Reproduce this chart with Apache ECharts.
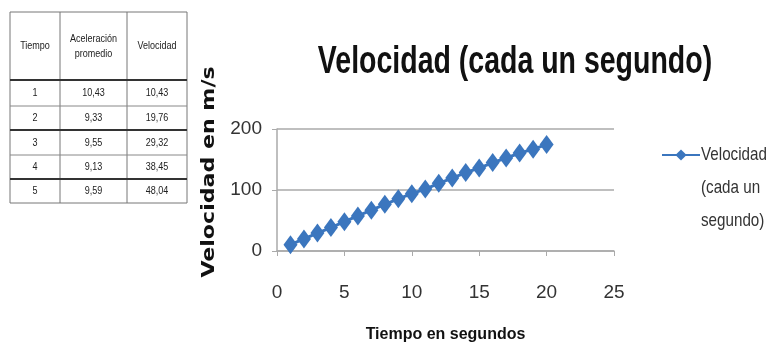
<!DOCTYPE html>
<html>
<head>
<meta charset="utf-8">
<script src="https://cdn.jsdelivr.net/npm/echarts@6/dist/echarts.min.js"></script>
<style>
  html, body { margin: 0; padding: 0; background: #fff; }
  #chart { width: 772px; height: 350px; }
</style>
</head>
<body>
<div id="chart"></div>
<script>
// Tabla de mediciones (primeros cinco segundos)
const tablaEncabezados = ['Tiempo', 'Aceleración\npromedio', 'Velocidad'];
const tablaTiempo = ['1', '2', '3', '4', '5'];
const tablaAceleracion = ['10,43', '9,33', '9,55', '9,13', '9,59'];
const tablaVelocidad = ['10,43', '19,76', '29,32', '38,45', '48,04'];

// Serie del gráfico: velocidad medida cada segundo
const segundos = [1, 2, 3, 4, 5, 6, 7, 8, 9, 10, 11, 12, 13, 14, 15, 16, 17, 18, 19, 20];
const velocidades = [10.43, 19.76, 29.32, 38.45, 48.04, 57.5, 67, 76.5, 85.5, 94,
                     101.5, 111, 119.5, 128.5, 136, 145, 152.5, 160.5, 167, 174.5];

const xTicks = [0, 5, 10, 15, 20, 25];
const yTicks = [0, 100, 200];

const titulo = 'Velocidad (cada un segundo)';
const leyendaLineas = ['Velocidad', '(cada un', 'segundo)'];

const SANS = '"Liberation Sans", Arial, sans-serif';
const AZUL = '#3b76be';

// --- tabla dibujada con elementos gráficos ---
const colX = [10, 60, 127, 187];
const rowY = [12, 80, 106, 130, 155, 179, 203];
const lineasGruesas = [80, 130, 179];
const tabla = [];
tabla.push({ type: 'rect', shape: { x: colX[0], y: rowY[0], width: colX[3] - colX[0], height: rowY[6] - rowY[0] },
  style: { fill: '#fff', stroke: '#777', lineWidth: 1 } });
for (let i = 1; i < colX.length - 1; i++) {
  tabla.push({ type: 'line', shape: { x1: colX[i], y1: rowY[0], x2: colX[i], y2: rowY[6] },
    style: { stroke: '#777', lineWidth: 1 } });
}
for (let j = 1; j < rowY.length - 1; j++) {
  const grueso = lineasGruesas.indexOf(rowY[j]) >= 0;
  tabla.push({ type: 'line', shape: { x1: colX[0], y1: rowY[j], x2: colX[3], y2: rowY[j] },
    style: { stroke: grueso ? '#333' : '#888', lineWidth: grueso ? 2 : 1 } });
}
const celda = (txt, c, r) => ({
  type: 'text',
  x: (colX[c] + colX[c + 1]) / 2,
  y: (rowY[r] + rowY[r + 1]) / 2,
  scaleX: 0.82,
  style: { text: txt, fill: '#222', font: '11px ' + SANS, align: 'center', verticalAlign: 'middle', lineHeight: 15 }
});
tablaEncabezados.forEach((h, c) => tabla.push(celda(h, c, 0)));
for (let r = 0; r < tablaTiempo.length; r++) {
  tabla.push(celda(tablaTiempo[r], 0, r + 1));
  tabla.push(celda(tablaAceleracion[r], 1, r + 1));
  tabla.push(celda(tablaVelocidad[r], 2, r + 1));
}

// texto de la leyenda en tres renglones, comprimido horizontalmente
const leyendaTexto = leyendaLineas.map((t, i) => ({
  type: 'text', x: 701, y: 155 + i * 33, scaleX: 0.8,
  style: { text: t, font: '19px ' + SANS, fill: '#333', align: 'left', verticalAlign: 'middle' }
}));

const chart = echarts.init(document.getElementById('chart'), null, { renderer: 'canvas' });

chart.setOption({
  animation: false,
  backgroundColor: '#fff',
  legend: {
    left: 661, top: 148, padding: 0,
    itemWidth: 38, itemHeight: 14,
    data: [titulo],
    formatter: () => '',
    textStyle: { fontFamily: SANS, fontSize: 18, color: '#333' }
  },
  grid: { left: 277, right: 158, top: 129, bottom: 99, containLabel: false },
  xAxis: {
    type: 'value', min: xTicks[0], max: xTicks[xTicks.length - 1], interval: 5,
    name: 'Tiempo en segundos', nameLocation: 'middle', nameGap: 76,
    nameTextStyle: { fontFamily: SANS, fontSize: 16, fontWeight: 'bold', color: '#111' },
    axisLine: { show: true, lineStyle: { color: '#aaa', width: 1.5 } },
    axisTick: { show: true, length: 5, inside: false, lineStyle: { color: '#aaa' } },
    axisLabel: { margin: 32, fontFamily: SANS, fontSize: 19, color: '#333' },
    splitLine: { show: false }
  },
  yAxis: {
    type: 'value', min: yTicks[0], max: yTicks[yTicks.length - 1], interval: 100,
    axisLine: { show: true, lineStyle: { color: '#aaa', width: 1.5 } },
    axisTick: { show: true, length: 5, lineStyle: { color: '#aaa' } },
    axisLabel: { margin: 15, fontFamily: SANS, fontSize: 19, color: '#333' },
    splitLine: { show: true, lineStyle: { color: '#aaa', width: 1.5 } }
  },
  series: [{
    name: titulo,
    type: 'line',
    data: segundos.map((s, i) => [s, velocidades[i]]),
    symbol: 'diamond',
    symbolSize: [14, 19],
    showAllSymbol: true,
    itemStyle: { color: AZUL },
    lineStyle: { color: AZUL, width: 3 }
  }],
  graphic: [
    { type: 'group', children: tabla },
    // título, comprimido horizontalmente
    {
      type: 'text', x: 515, y: 63, scaleX: 0.75,
      style: { text: titulo, font: 'bold 38px ' + SANS, fill: '#111', align: 'center', verticalAlign: 'middle' }
    },
    // nombre del eje vertical
    {
      type: 'text', x: 210, y: 172, rotation: Math.PI / 2, scaleX: 1.3,
      style: { text: 'Velocidad en m/s', font: 'bold 17px "DejaVu Sans", sans-serif', fill: '#111', align: 'center', verticalAlign: 'middle' }
    },
    { type: 'group', children: leyendaTexto }
  ]
});
</script>
</body>
</html>
